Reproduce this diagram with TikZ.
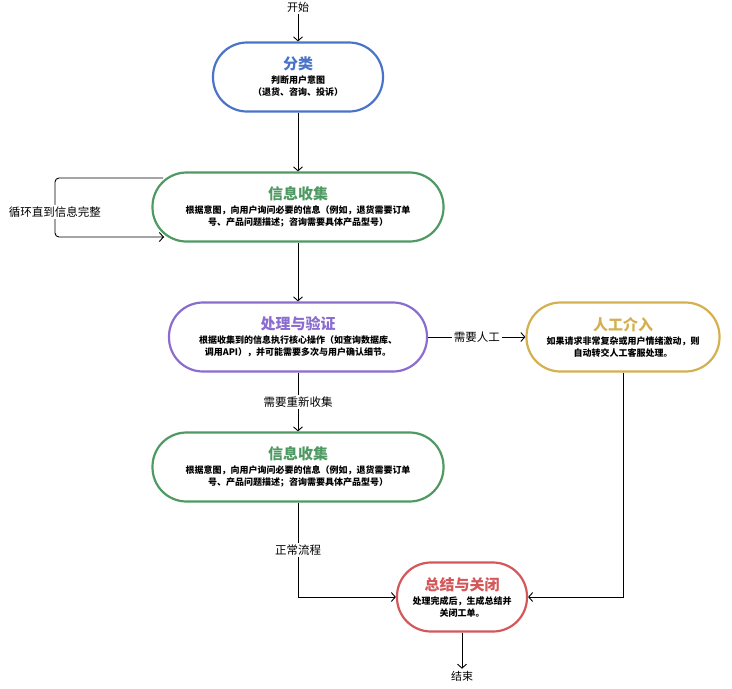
\documentclass[tikz,border=0pt]{standalone}
\usepackage{fontspec}
\setmainfont{Noto Sans CJK SC}
\usetikzlibrary{arrows.meta,calc}
\definecolor{cblue}{HTML}{4A74C8}
\definecolor{cgreen}{HTML}{4E9A62}
\definecolor{cpurple}{HTML}{8B6CCF}
\definecolor{cgold}{HTML}{D4B04E}
\definecolor{cred}{HTML}{D4585A}
\newcommand\bxtitle[2]{{\fontsize{15}{17}\selectfont\bfseries\color{#1}#2}}
\newcommand\bxbody[1]{{\fontsize{9}{13}\selectfont\bfseries #1}}
\begin{document}
\begin{tikzpicture}[x=1pt,y=-1pt,
  stad/.style={draw=#1, line width=2.2pt, fill=white, rounded corners=34pt,
    minimum height=69pt, align=center, inner sep=0pt},
  arr/.style={-{Straight Barb[length=4pt,width=9pt]}, line width=0.9pt},
  ln/.style={line width=0.9pt},
  lbl/.style={font=\fontsize{11.5}{13}\selectfont, fill=white, inner sep=2pt},
  endlbl/.style={font=\fontsize{11}{13}\selectfont, fill=white, inner sep=2pt},
]
\useasboundingbox (0,0) rectangle (732,689);

\node[endlbl] (start) at (298,7) {开始};
\node[stad=cblue, minimum width=170pt] (cls) at (298,77)
  {\bxtitle{cblue}{分类}\\[2pt]\bxbody{判断用户意图}\\\bxbody{（退货、咨询、投诉）}};
\node[stad=cgreen, minimum width=291pt] (col1) at (298,207)
  {\bxtitle{cgreen}{信息收集}\\[2pt]\bxbody{根据意图，向用户询问必要的信息（例如，退货需要订单}\\\bxbody{号、产品问题描述；咨询需要具体产品型号）}};
\node[stad=cpurple, minimum width=258pt] (proc) at (298,337)
  {\bxtitle{cpurple}{处理与验证}\\[2pt]\bxbody{根据收集到的信息执行核心操作（如查询数据库、}\\\bxbody{调用API），并可能需要多次与用户确认细节。}};
\node[stad=cgold, minimum width=193pt] (human) at (623,337)
  {\bxtitle{cgold}{人工介入}\\[2pt]\bxbody{如果请求非常复杂或用户情绪激动，则}\\\bxbody{自动转交人工客服处理。}};
\node[stad=cgreen, minimum width=291pt] (col2) at (298,467)
  {\bxtitle{cgreen}{信息收集}\\[2pt]\bxbody{根据意图，向用户询问必要的信息（例如，退货需要订单}\\\bxbody{号、产品问题描述；咨询需要具体产品型号）}};
\node[stad=cred, minimum width=130pt] (sum) at (462,597)
  {\bxtitle{cred}{总结与关闭}\\[2pt]\bxbody{处理完成后，生成总结并}\\\bxbody{关闭工单。}};
\node[endlbl] (end) at (462,676) {结束};

\draw[arr] (start) -- (cls.north);
\draw[arr] (cls.south) -- (col1.north);
\draw[arr] (col1.south) -- (proc.north);
\draw[arr] (proc.east) -- node[lbl] {需要人工} (human.west);
\draw[arr] (proc.south) -- node[lbl] {需要重新收集} (col2.north);
\draw[arr] (col2.south) |- node[lbl, pos=0.25] {正常流程} (sum.west);
\draw[arr] (human.south) |- (sum.east);
\draw[arr] (sum.south) -- (end);

\coordinate (loopA) at (163,178);
\coordinate (loopB) at (55,178);
\coordinate (loopC) at (55,237);
\coordinate (loopD) at (164,237);
\draw[ln, rounded corners=4pt] (loopA) -- (loopB) -- (loopC) -- (loopD);
\draw[arr] ($(loopD)+(-2,0)$) -- (loopD);
\node[lbl] (looplbl) at (55,212) {循环直到信息完整};
\end{tikzpicture}
\end{document}
